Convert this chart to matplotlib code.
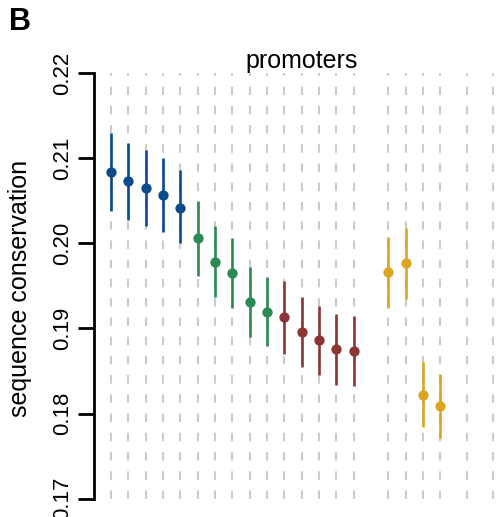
import numpy as np
import matplotlib
matplotlib.use("Agg")
import matplotlib.pyplot as plt

plt.rcParams['font.family'] = ['Liberation Sans', 'DejaVu Sans']
plt.rcParams['lines.scale_dashes'] = False

# conservation estimates with confidence intervals, one list per group
blue_pos = [1, 2, 3, 4, 5]
blue_mean = [0.2084, 0.2073, 0.2065, 0.2057, 0.2042]
blue_lo = [0.2038, 0.2027, 0.2020, 0.2013, 0.2000]
blue_hi = [0.2130, 0.2118, 0.2109, 0.2100, 0.2086]

green_pos = [6, 7, 8, 9, 10]
green_mean = [0.2006, 0.1978, 0.1965, 0.1931, 0.1919]
green_lo = [0.1962, 0.1937, 0.1924, 0.1890, 0.1879]
green_hi = [0.2050, 0.2020, 0.2006, 0.1972, 0.1960]

red_pos = [11, 12, 13, 14, 15]
red_mean = [0.1913, 0.1896, 0.1886, 0.1876, 0.1874]
red_lo = [0.1870, 0.1855, 0.1845, 0.1833, 0.1832]
red_hi = [0.1956, 0.1937, 0.1926, 0.1917, 0.1915]

yellow_pos = [17, 18, 19, 20]
yellow_mean = [0.1966, 0.1977, 0.1822, 0.1809]
yellow_lo = [0.1924, 0.1935, 0.1784, 0.1771]
yellow_hi = [0.2007, 0.2018, 0.1860, 0.1846]

grid_pos = list(range(1, 16)) + [17, 18, 19, 20, 21.52, 23.02]
yticks = [0.17, 0.18, 0.19, 0.20, 0.21, 0.22]

groups = [
    (blue_pos, blue_mean, blue_lo, blue_hi, '#0b4a8b'),
    (green_pos, green_mean, green_lo, green_hi, '#2a8a52'),
    (red_pos, red_mean, red_lo, red_hi, '#8b3535'),
    (yellow_pos, yellow_mean, yellow_lo, yellow_hi, '#dca521'),
]

fig = plt.figure(figsize=(5.01, 5.17), dpi=100)
W, H = 501, 517
ax = fig.add_axes([93.5 / W, (H - 498.7) / H, (W - 93.5) / W, (498.7 - 73) / H])
ax.set_xlim(0, 23.5)
ax.set_ylim(0.17, 0.22)

# light dashed guides, drawn bottom-up so the dash phase starts at the axis floor
for x in grid_pos:
    ax.plot([x, x], [0.17, 0.22], color='#cbcbcb', lw=1.5,
            dashes=(6.1, 7.75), zorder=1, clip_on=True)

for pos, mean, lo, hi, col in groups:
    ax.vlines(pos, lo, hi, color=col, lw=1.9, zorder=2)
    ax.plot(pos, mean, 'o', color=col, ms=7.4, mec='none', zorder=3)

for side in ['top', 'right', 'bottom']:
    ax.spines[side].set_visible(False)
ax.spines['left'].set_linewidth(2.0)
ax.spines['left'].set_bounds(0.17, 0.22)
ax.set_xticks([])
ax.set_yticks(yticks)
ax.set_yticklabels(['%.2f' % v for v in yticks], rotation=90, va='center', fontsize=16)
ax.tick_params(axis='y', length=11.5, width=2.0, pad=3)

fig.text(20 / W, 1 - 288 / H, 'sequence conservation', rotation=90,
         ha='center', va='center', fontsize=18)
fig.text(302 / W, 1 - 68 / H, 'promoters', ha='center', va='baseline', fontsize=18)
fig.text(9 / W, 1 - 30 / H, 'B', ha='left', va='baseline', fontsize=22, fontweight='bold')

fig.savefig('out.png', dpi=100)
